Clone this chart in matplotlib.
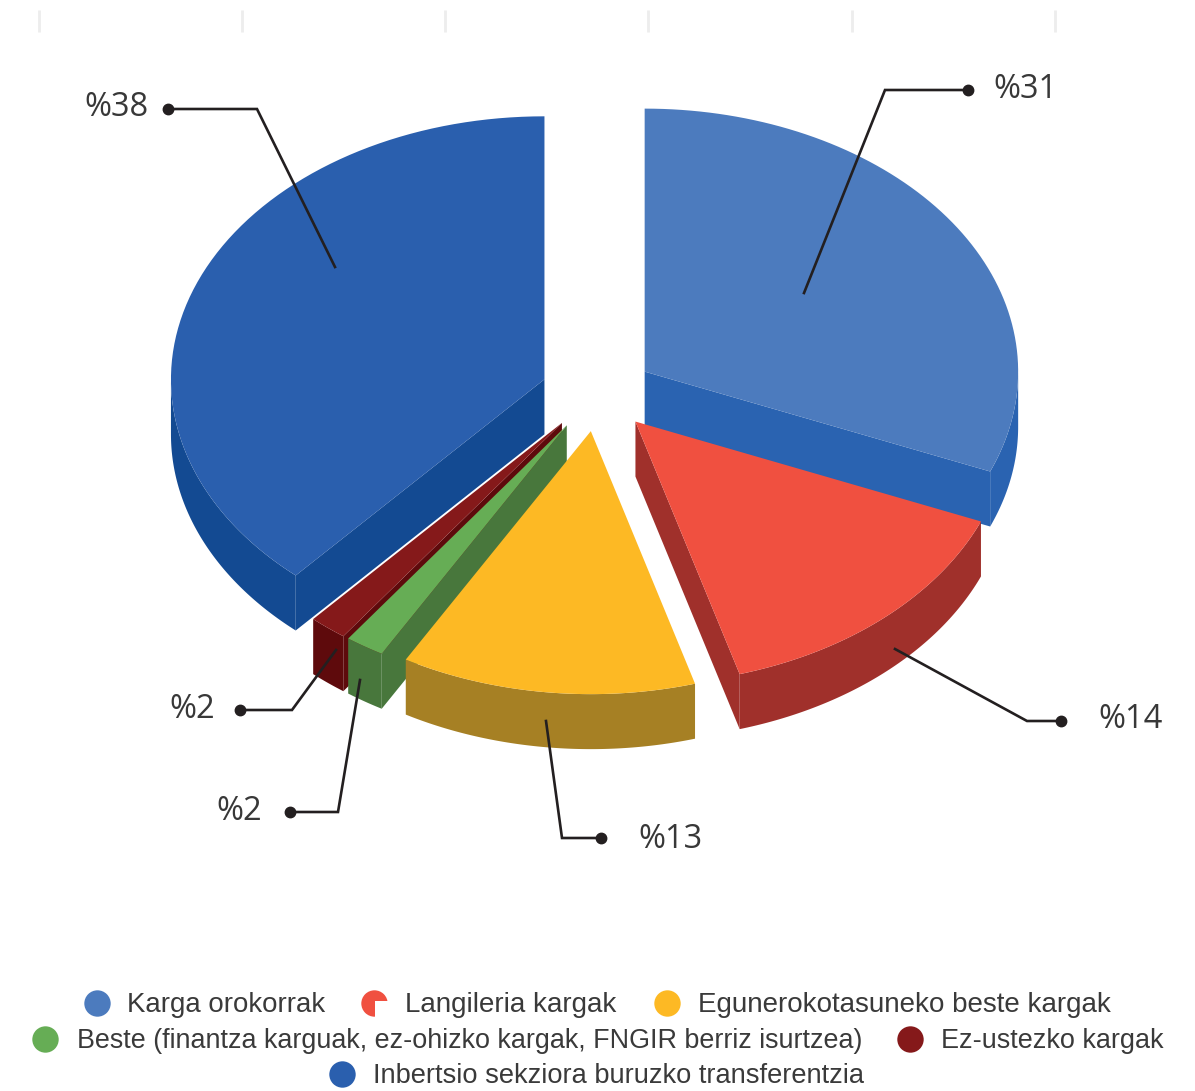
import numpy as np
import matplotlib
matplotlib.use("Agg")
import matplotlib.pyplot as plt
from matplotlib.patches import Polygon, Rectangle

# data
categories = ["Karga orokorrak", "Langileria kargak", "Egunerokotasuneko beste kargak",
              "Beste (finantza karguak, ez-ohizko kargak, FNGIR berriz isurtzea)",
              "Ez-ustezko kargak", "Inbertsio sekziora buruzko transferentzia"]
shares = [31.2, 14.3, 12.75, 1.7, 1.65, 38.4]
share_labels = ["%31", "%14", "%13", "%2", "%2", "%38"]
top_colors = ["#4C7BBE", "#F05040", "#FDB924", "#66AD55", "#85191A", "#2A5FAE"]
side_colors = ["#2A63B1", "#A0302B", "#A68024", "#48773C", "#5E0A0C", "#134A92"]

# pie geometry (pixels)
cx, cy = 597.5, 393
rx, ry = 373.5, 263
depth = 55
explode_x, explode_y = 0.152, 0.146

# leader lines: inside slice -> elbow -> dot, then label position
leader_x = [[804, 885, 968], [895, 1027, 1061], [546, 562, 601],
            [360, 338, 290], [336, 292, 240], [335, 257, 168]]
leader_y = [[293, 90, 90], [649, 721, 721], [721, 838, 838],
            [680, 812, 812], [650, 710, 710], [267, 109, 109]]
label_x = [993, 1098, 638, 262, 215, 149]
label_y = [89, 720, 839, 812, 710, 108]
label_ha = ["left", "left", "left", "right", "right", "right"]

# legend rows
legend_dot_x = [97, 374, 667, 45, 910, 342]
legend_text_x = [127, 405, 698, 77, 941, 373]
legend_y = [1003, 1003, 1003, 1039, 1039, 1074]
legend_size = [19.9, 20.0, 19.95, 19.4, 19.45, 19.6]

tick_x = [39, 242, 445, 648, 852, 1055]

fig = plt.figure(figsize=(11.95, 10.91), dpi=100)
ax = fig.add_axes([0, 0, 1, 1])
ax.set_xlim(0, 1195)
ax.set_ylim(1091, 0)
ax.axis("off")

ax.vlines(tick_x, 10, 32, color="#EDEDED", lw=2)


def point(x0, y0, a):
    return x0 + rx * np.sin(a), y0 - ry * np.cos(a)


def arc(x0, y0, a0, a1):
    t = np.linspace(a0, a1, 80)
    return x0 + rx * np.sin(t), y0 - ry * np.cos(t)


bounds = np.radians(np.cumsum([0] + shares) * 3.6)

# back to front
for i in [0, 5, 4, 3, 2, 1]:
    a0, a1 = bounds[i], bounds[i + 1]
    mid = (a0 + a1) / 2
    x0 = cx + explode_x * rx * np.sin(mid)
    y0 = cy - explode_y * ry * np.cos(mid)

    # rim, only the front half shows
    r0, r1 = max(a0, np.pi / 2), min(a1, np.pi * 1.5)
    if r1 > r0:
        xs, ys = arc(x0, y0, r0, r1)
        pts = np.r_[np.c_[xs, ys], np.c_[xs[::-1], ys[::-1] + depth]]
        ax.add_patch(Polygon(pts, fc=side_colors[i], ec="none"))

    # cut faces
    faces = []
    if np.sin(a1) > 1e-6:
        faces.append(a1)
    if np.sin(a0) < -1e-6:
        faces.append(a0)
    for a in faces:
        px, py = point(x0, y0, a)
        pts = [(x0, y0), (px, py), (px, py + depth), (x0, y0 + depth)]
        ax.add_patch(Polygon(pts, fc=side_colors[i], ec="none"))

    # top
    xs, ys = arc(x0, y0, a0, a1)
    pts = np.r_[[[x0, y0]], np.c_[xs, ys]]
    ax.add_patch(Polygon(pts, fc=top_colors[i], ec="none"))

# leaders and labels
for i in range(len(shares)):
    ax.plot(leader_x[i], leader_y[i], color="#231F20", lw=1.9, solid_joinstyle="miter")
    ax.plot(leader_x[i][-1], leader_y[i][-1], "o", color="#231F20", ms=7.5)
    ax.text(label_x[i], label_y[i], share_labels[i], family="Open Sans", fontsize=23.5,
            color="#383838", ha=label_ha[i], va="center")

# legend
for i in range(len(categories)):
    ax.plot(legend_dot_x[i], legend_y[i], "o", color=top_colors[i], ms=19, mec="none")
    if i == 1:
        # the white chip over the red dot in the source image
        ax.add_patch(Rectangle((375, 1001), 24, 28, fc="white", ec="none", zorder=3))
    ax.text(legend_text_x[i], legend_y[i] + 2, categories[i], family="Liberation Sans",
            fontsize=legend_size[i], color="#3A3A3A", ha="left", va="center", zorder=4)

fig.savefig("out.png", dpi=100)
